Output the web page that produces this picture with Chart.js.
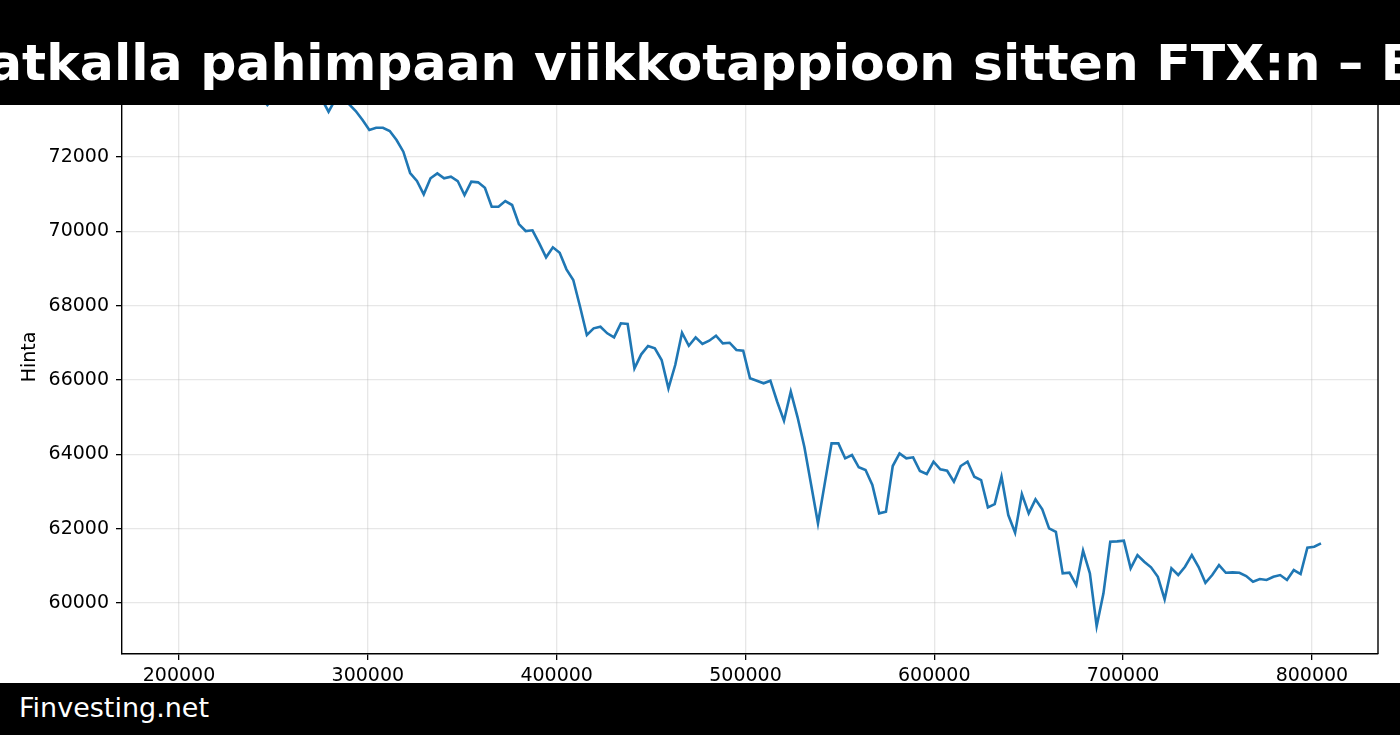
<!DOCTYPE html>
<html>
<head>
<meta charset="utf-8">
<script src="https://cdn.jsdelivr.net/npm/chart.js@4.4.1/dist/chart.umd.min.js"></script>
<style>
  html, body { margin: 0; padding: 0; background: #fff; }
  #wrap { position: relative; width: 1400px; height: 735px; overflow: hidden; background: #fff; }
  #chart { position: absolute; left: 0; top: 0; }
  .band { position: absolute; left: 0; width: 1400px; background: #000; overflow: hidden; }
  #top { top: 0; height: 105px; }
  #bottom { top: 683px; height: 52px; }
  #title { position: absolute; top: 37px; left: -300px; white-space: nowrap; color: #fff; font: bold 50.5px/51px "DejaVu Sans"; }
  #brand { position: absolute; left: 19px; top: 11px; color: #fff; font: 27px/27px "DejaVu Sans"; }
</style>
</head>
<body>
<div id="wrap">
  <canvas id="chart" width="1400" height="735"></canvas>
  <div class="band" id="top"><div id="title">Bitcoin matkalla pahimpaan viikkotappioon sitten FTX:n – Bitcoin</div></div>
  <div class="band" id="bottom"><div id="brand">Finvesting.net</div></div>
</div>
<script>
// hourly points, x in seconds
const seconds = [
  200000, 203600, 207200, 210800, 214400, 218000, 221600, 225200, 228800, 232400,
  236000, 239600, 243200, 246800, 250400, 254000, 257600, 261200, 264800, 268400,
  272000, 275600, 279200, 282800, 286400, 290000, 293600, 297200, 300800, 304400,
  308000, 311600, 315200, 318800, 322400, 326000, 329600, 333200, 336800, 340400,
  344000, 347600, 351200, 354800, 358400, 362000, 365600, 369200, 372800, 376400,
  380000, 383600, 387200, 390800, 394400, 398000, 401600, 405200, 408800, 412400,
  416000, 419600, 423200, 426800, 430400, 434000, 437600, 441200, 444800, 448400,
  452000, 455600, 459200, 462800, 466400, 470000, 473600, 477200, 480800, 484400,
  488000, 491600, 495200, 498800, 502400, 506000, 509600, 513200, 516800, 520400,
  524000, 527600, 531200, 534800, 538400, 542000, 545600, 549200, 552800, 556400,
  560000, 563600, 567200, 570800, 574400, 578000, 581600, 585200, 588800, 592400,
  596000, 599600, 603200, 606800, 610400, 614000, 617600, 621200, 624800, 628400,
  632000, 635600, 639200, 642800, 646400, 650000, 653600, 657200, 660800, 664400,
  668000, 671600, 675200, 678800, 682400, 686000, 689600, 693200, 696800, 700400,
  704000, 707600, 711200, 714800, 718400, 722000, 725600, 729200, 732800, 736400,
  740000, 743600, 747200, 750800, 754400, 758000, 761600, 765200, 768800, 772400,
  776000, 779600, 783200, 786800, 790400, 794000, 797600, 801200, 804800
];

const price = [
  73650, 73720, 73800, 73760, 73850, 73894, 73820, 73700, 73750, 73640,
  73700, 73580, 73620, 73400, 73600, 73700, 73650, 73780, 73720, 73650,
  73600, 73560, 73219, 73550, 73520, 73426, 73238, 72995, 72726, 72788,
  72788, 72700, 72457, 72143, 71570, 71354, 70996, 71427, 71561, 71427,
  71470, 71354, 70978, 71335, 71319, 71174, 70663, 70663, 70816, 70709,
  70197, 70009, 70028, 69678, 69301, 69571, 69425, 68978, 68691, 67972,
  67211, 67391, 67434, 67257, 67149, 67526, 67507, 66315, 66692, 66915,
  66853, 66538, 65777, 66404, 67273, 66923, 67149, 66969, 67058, 67192,
  66988, 67004, 66808, 66789, 66046, 65982, 65912, 65982, 65417, 64905,
  65686, 64997, 64198, 63176, 62145, 63221, 64297, 64297, 63894, 63983,
  63652, 63579, 63176, 62414, 62457, 63687, 64028, 63894, 63921, 63552,
  63471, 63802, 63598, 63560, 63264, 63687, 63802, 63399, 63310, 62576,
  62664, 63399, 62368, 61892, 62933, 62414, 62791, 62522, 62011, 61919,
  60800, 60816, 60485, 61408, 60800, 59382, 60262, 61650, 61661, 61677,
  60935, 61292, 61112, 60961, 60708, 60100, 60935, 60754, 60977, 61292,
  60969, 60547, 60754, 61023, 60816, 60827, 60816, 60727, 60574, 60647,
  60620, 60709, 60754, 60620, 60889, 60781, 61489, 61516, 61607
];

const xTicks = [200000, 300000, 400000, 500000, 600000, 700000, 800000];
const yTicks = [60000, 62000, 64000, 66000, 68000, 70000, 72000, 74000];

// place the (overflowing) title so that "matkalla" lines up like the original
const m = document.createElement('canvas').getContext('2d');
m.font = 'bold 50.5px "DejaVu Sans"';
document.getElementById('title').style.left = (-12 - m.measureText('Bitcoin m').width) + 'px';

const tickFont = { family: 'DejaVu Sans', size: 19 };
const gridOpts = { color: 'rgba(176,176,176,0.3)', lineWidth: 1.3, tickColor: '#000', tickLength: 6, tickWidth: 1.3 };

// right/top spine like matplotlib box
const frame = {
  id: 'frame',
  afterDraw(chart) {
    const { ctx, chartArea: a } = chart;
    ctx.save();
    ctx.strokeStyle = '#000';
    ctx.lineWidth = 1.4;
    ctx.beginPath();
    ctx.moveTo(a.left, a.top);
    ctx.lineTo(a.right, a.top);
    ctx.lineTo(a.right, a.bottom);
    ctx.stroke();
    ctx.restore();
  }
};

Chart.defaults.color = '#000';
Chart.defaults.font.family = 'DejaVu Sans';

new Chart(document.getElementById('chart'), {
  type: 'line',
  data: {
    datasets: [{
      label: 'Hinta',
      data: seconds.map((x, i) => ({ x: x, y: price[i] })),
      borderColor: '#1f77b4',
      borderWidth: 2.6,
      pointRadius: 0,
      tension: 0,
      fill: false
    }]
  },
  options: {
    responsive: false,
    animation: false,
    devicePixelRatio: 1,
    layout: { padding: { top: 60, right: 22, left: 0, bottom: 0 } },
    plugins: { legend: { display: false }, tooltip: { enabled: false } },
    scales: {
      x: {
        type: 'linear',
        min: 169800,
        max: 835000,
        afterBuildTicks: s => { s.ticks = xTicks.map(v => ({ value: v })); },
        afterFit: s => { s.height = 81; s.paddingLeft = 0; s.paddingRight = 0; },
        ticks: { padding: 5, maxRotation: 0, autoSkip: false, font: tickFont, callback: v => String(v) },
        grid: gridOpts,
        border: { color: '#000', width: 1.4 }
      },
      y: {
        min: 58630,
        max: 74610,
        afterBuildTicks: s => { s.ticks = yTicks.map(v => ({ value: v })); },
        afterFit: s => { s.width = 122; s.paddingTop = 0; s.paddingBottom = 0; },
        ticks: { padding: 7, font: tickFont, callback: v => String(v) },
        grid: gridOpts,
        border: { color: '#000', width: 1.4 },
        title: { display: true, text: 'Hinta', font: { family: 'DejaVu Sans', size: 19 }, padding: { top: 19, bottom: 0 } }
      }
    }
  },
  plugins: [frame]
});
</script>
</body>
</html>
